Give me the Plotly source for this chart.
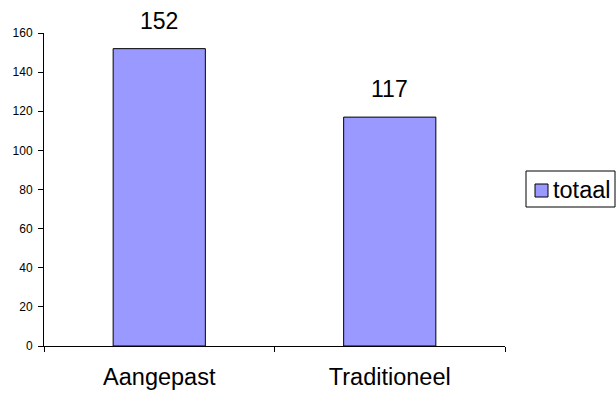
import plotly.graph_objects as go

# Chart data
categories = ["Aangepast", "Traditioneel"]
totaal = [152, 117]
series_name = "totaal"

# Canvas and plot-area geometry (pixels)
W, H = 616, 393
M_L, M_R, M_T, M_B = 44, 111, 33, 47
PW = W - M_L - M_R
PH = H - M_T - M_B

BAR_COLOR = "#9999FF"
FONT = "Arial, 'Liberation Sans', sans-serif"


def px_x(x):
    return (x - M_L) / PW


def px_y(y):
    return (H - M_B - y) / PH


fig = go.Figure()
fig.add_trace(go.Bar(
    x=categories,
    y=totaal,
    name=series_name,
    marker=dict(color=BAR_COLOR, line=dict(color="black", width=1)),
    showlegend=False,
))

# Value labels above the bars
for cat, val in zip(categories, totaal):
    fig.add_annotation(
        x=cat, y=val, text=str(val), showarrow=False,
        xref="x", yref="y", yanchor="bottom", yshift=13,
        font=dict(family=FONT, size=23, color="black"),
    )

# Legend box drawn in paper coordinates
fig.add_shape(type="rect", xref="paper", yref="paper",
              x0=px_x(526), x1=px_x(615), y0=px_y(207), y1=px_y(171),
              line=dict(color="black", width=1), fillcolor="white")
fig.add_shape(type="rect", xref="paper", yref="paper",
              x0=px_x(535), x1=px_x(548), y0=px_y(197), y1=px_y(184),
              line=dict(color="black", width=1), fillcolor=BAR_COLOR)
fig.add_annotation(
    x=px_x(551), y=px_y(190), xref="paper", yref="paper",
    text=series_name, showarrow=False, xanchor="left", yanchor="middle",
    font=dict(family=FONT, size=23.5, color="black"),
)

fig.update_layout(
    width=W, height=H,
    margin=dict(l=M_L, r=M_R, t=M_T, b=M_B, pad=0),
    paper_bgcolor="white", plot_bgcolor="white",
    bargap=0.6,
    font=dict(family=FONT, color="black"),
)
fig.update_xaxes(
    type="category", range=[-0.5, 1.5],
    showline=True, linecolor="black", linewidth=1,
    ticks="outside", tickson="boundaries", ticklen=5, tickcolor="black",
    showgrid=False, zeroline=False, automargin=False,
    tickfont=dict(family=FONT, size=23.5, color="black"),
    ticklabelstandoff=10,
)
fig.update_yaxes(
    range=[0, 160], dtick=20,
    showline=True, linecolor="black", linewidth=1,
    ticks="outside", ticklen=5, tickcolor="black",
    showgrid=False, zeroline=False, automargin=False,
    tickfont=dict(family=FONT, size=12, color="black"),
    ticklabelstandoff=3,
)

fig.write_html("out.html")
